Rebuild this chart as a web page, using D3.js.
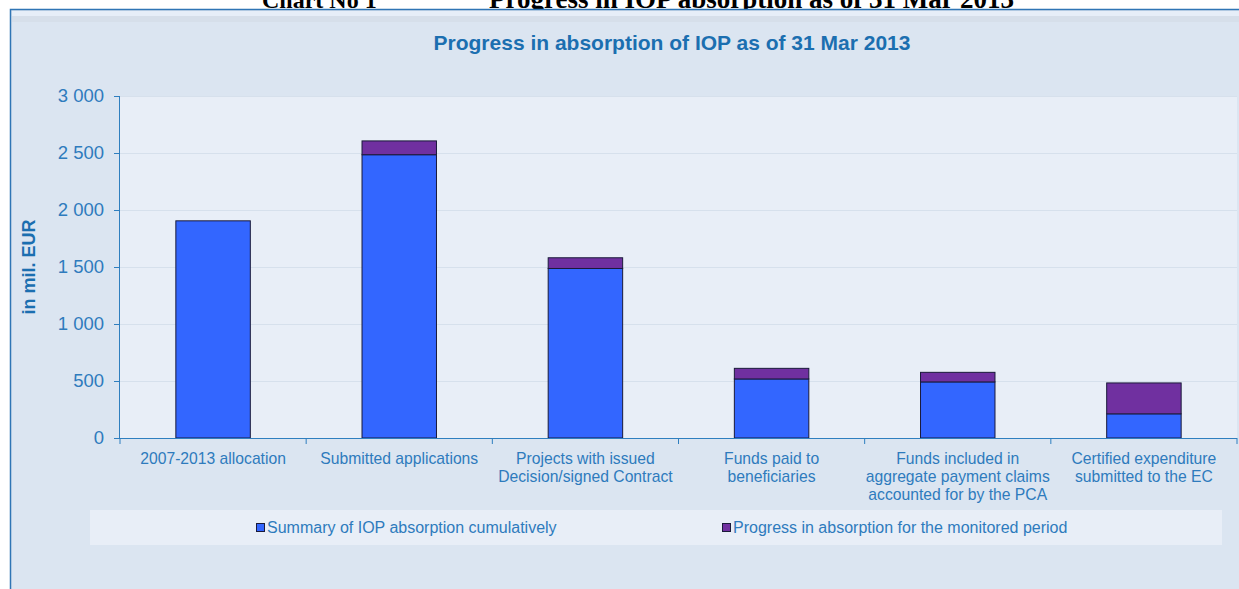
<!DOCTYPE html>
<html><head><meta charset="utf-8">
<script src="https://cdn.jsdelivr.net/npm/d3@7"></script>
<style>body{margin:0;background:#fff}svg{display:block}</style>
</head><body>
<svg id="c" width="1239" height="589"></svg>
<script>
const categories = [
  ["2007-2013 allocation"],
  ["Submitted applications"],
  ["Projects with issued", "Decision/signed Contract"],
  ["Funds paid to", "beneficiaries"],
  ["Funds included in", "aggregate payment claims", "accounted for by the PCA"],
  ["Certified expenditure", "submitted to the EC"]
];
const cumulative = [1905, 2485, 1487, 518, 492, 212];
const progress = [0, 121, 94, 93, 84, 271];
const yTicks = [0, 500, 1000, 1500, 2000, 2500, 3000];
const seriesNames = ["Summary of IOP absorption cumulatively", "Progress in absorption for the monitored period"];
const seriesColors = ["#3366ff", "#7030a0"];

(function () {
const svg = d3.select("#c");
const font = "'Liberation Sans', Arial, sans-serif";
const textCol = "#2e7bbd";

// header (partially cut off at the top of the page, as in the source)
svg.append("text").attr("x", 262).attr("y", 8).attr("font-family", "'Liberation Serif', 'Times New Roman', serif")
  .attr("font-weight", "bold").attr("font-size", 24).attr("fill", "#000").text("Chart No 1");
svg.append("text").attr("x", 489).attr("y", 8).attr("font-family", "'Liberation Serif', 'Times New Roman', serif")
  .attr("font-weight", "bold").attr("font-size", 27).attr("fill", "#000").text("Progress in IOP absorption as of 31 Mar 2013");

// frame
svg.append("rect").attr("x", 10.5).attr("y", 9.5).attr("width", 1300).attr("height", 700)
  .attr("fill", "#dbe5f1").attr("stroke", "#2f75b5").attr("stroke-width", 1.5);
svg.append("rect").attr("x", 12).attr("y", 11).attr("width", 1300).attr("height", 5).attr("fill", "#e6eef8");
svg.append("rect").attr("x", 12).attr("y", 16).attr("width", 1300).attr("height", 6).attr("fill", "#d6dfea");

const pL = 120, pR = 1237, pT = 96, pB = 438;
const x = d3.scaleBand().domain(d3.range(categories.length)).range([pL, pR]).paddingInner(0.6).paddingOuter(0.3);
const y = d3.scaleLinear().domain([0, 3000]).range([pB, pT]);

// plot area
svg.append("rect").attr("x", pL).attr("y", pT).attr("width", pR - pL).attr("height", pB - pT).attr("fill", "#e8eef7");

// grid
svg.append("g").selectAll("line").data(yTicks.filter(d => d > 0)).join("line")
  .attr("x1", pL).attr("x2", pR).attr("y1", d => Math.round(y(d)) + 0.5).attr("y2", d => Math.round(y(d)) + 0.5)
  .attr("stroke", "#d6e0ec").attr("stroke-width", 1);

// title
svg.append("text").attr("x", 672).attr("y", 50).attr("text-anchor", "middle").attr("font-family", font)
  .attr("font-weight", "bold").attr("font-size", 21).attr("fill", "#1b6fb0").text("Progress in absorption of IOP as of 31 Mar 2013");

// y label
svg.append("text").attr("transform", "translate(35,267) rotate(-90)").attr("text-anchor", "middle").attr("font-family", font)
  .attr("font-weight", "bold").attr("font-size", 18).attr("fill", "#1b6fb0").text("in mil. EUR");

// bars
const table = categories.map((c, i) => ({ i, s0: cumulative[i], s1: progress[i] }));
const stacked = d3.stack().keys(["s0", "s1"])(table);
svg.append("g").selectAll("g").data(stacked).join("g").attr("fill", (d, k) => seriesColors[k])
  .selectAll("rect").data(d => d.filter(p => p[1] - p[0] > 0)).join("rect")
  .attr("x", d => x(d.data.i)).attr("width", x.bandwidth())
  .attr("y", d => y(d[1])).attr("height", d => y(d[0]) - y(d[1]))
  .attr("stroke", "#1a1a3a").attr("stroke-width", 1);

// y axis
const loc = d3.formatLocale({ decimal: ".", thousands: " ", grouping: [3], currency: ["", ""] });
const yAxis = svg.append("g").attr("transform", `translate(${pL},0)`)
  .call(d3.axisLeft(y).tickValues(yTicks).tickFormat(loc.format(",")).tickSize(6).tickPadding(10));
yAxis.selectAll("path,line").attr("stroke", "#2f7fbf");
yAxis.select(".domain").attr("d", `M-0.5,${pT}V${pB}`);
yAxis.selectAll("text").attr("font-family", font).attr("font-size", 18.5).attr("fill", textCol);

// x axis
const step = x.step();
svg.append("line").attr("x1", pL).attr("x2", pR).attr("y1", pB + 0.5).attr("y2", pB + 0.5).attr("stroke", "#2f7fbf");
svg.append("g").selectAll("line").data(d3.range(categories.length + 1)).join("line")
  .attr("x1", d => pL + d * step).attr("x2", d => pL + d * step)
  .attr("y1", pB).attr("y2", pB + 6).attr("stroke", "#2f7fbf");
const xl = svg.append("g").selectAll("text").data(categories).join("text")
  .attr("text-anchor", "middle").attr("font-family", font).attr("font-size", 15.7).attr("fill", textCol)
  .attr("x", (d, i) => x(i) + x.bandwidth() / 2).attr("y", 464);
xl.selectAll("tspan").data(d => d).join("tspan").attr("x", function () { return d3.select(this.parentNode).attr("x"); })
  .attr("dy", (d, j) => j === 0 ? 0 : 18).text(d => d);

// legend
svg.append("rect").attr("x", 90).attr("y", 510).attr("width", 1132).attr("height", 35).attr("fill", "#e8eef7");
const legX = [256, 722];
const lg = svg.append("g").selectAll("g").data(seriesNames).join("g").attr("transform", (d, i) => `translate(${legX[i]},0)`);
lg.append("rect").attr("x", 0.5).attr("y", 523.5).attr("width", 8).attr("height", 8).attr("fill", (d, i) => seriesColors[i]).attr("stroke", "#1a1a3a");
lg.append("text").attr("x", 11).attr("y", 533).attr("font-family", font).attr("font-size", 16).attr("fill", textCol).text(d => d);
})();
</script>
</body></html>
